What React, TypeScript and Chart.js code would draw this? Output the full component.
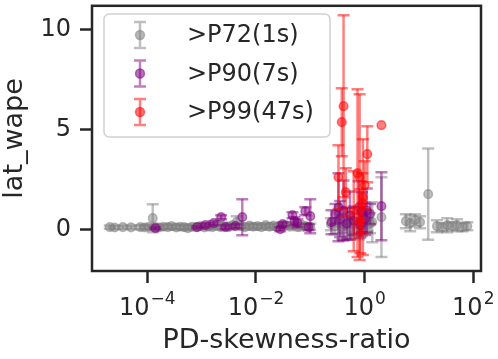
import React, { useEffect, useRef } from 'react';
import { Chart, registerables } from 'chart.js';

Chart.register(...registerables);

// ---- data ----
const SERIES_LABELS = ['>P72(1s)', '>P90(7s)', '>P99(47s)'];
const SERIES_RGB = ['128,128,128', '128,0,128', '255,0,0'];

const grayX = [
  2.04e-5, 2.51e-5, 3.55e-5, 5.01e-5, 7.41e-5, 8.91e-5, 1.07e-4, 1.26e-4, 1.41e-4, 1.66e-4,
  2.0e-4, 2.4e-4, 2.8e-4, 3.4e-4, 4.0e-4, 4.8e-4, 5.6e-4, 6.6e-4, 7.9e-4, 9.5e-4,
  1.12e-3, 1.32e-3, 1.58e-3, 1.9e-3, 2.24e-3, 2.63e-3, 3.16e-3, 3.7e-3, 4.4e-3, 5.2e-3,
  6.3e-3, 7.6e-3, 8.9e-3, 1.07e-2, 1.26e-2, 1.51e-2, 1.78e-2, 2.09e-2, 2.5e-2, 3.0e-2,
  3.55e-2, 4.2e-2, 5.0e-2, 6.0e-2, 7.1e-2, 8.3e-2, 0.1,
  0.24, 0.28, 0.33, 0.38, 0.45, 0.5, 0.56, 0.63, 0.71, 0.79, 0.89, 1.0, 1.12, 1.26, 1.38, 2.04,
  5.75, 6.9, 8.5, 10.5, 14.8, 21.4, 26.9, 33.1, 40.7, 50.1, 63.1, 77.6,
];
const grayY = [
  0.10, 0.08, 0.10, 0.09, 0.10, 0.08, 0.12, 0.55, 0.10, 0.08,
  0.12, 0.10, 0.15, 0.08, 0.12, 0.10, 0.05, 0.12, 0.10, 0.15,
  0.08, 0.12, 0.10, 0.18, 0.10, 0.15, 0.10, 0.20, 0.35, 0.15,
  0.10, 0.18, 0.12, 0.15, 0.10, 0.20, 0.12, 0.18, 0.10, 0.15,
  0.20, 0.12, 0.18, 0.10, 0.20, 0.15, 0.12,
  0.25, 0.15, 0.30, 0.10, 0.20, 0.35, 0.05, 0.25, 0.10, 0.30, 0.15, 0.40, 0.20, 0.30, 0.35, 0.60,
  0.40, 0.30, 0.45, 0.35, 1.75, 0.15, 0.10, 0.20, 0.15, 0.20, 0.10, 0.15,
];
const grayErr = [
  0.08, 0.08, 0.08, 0.08, 0.1, 0.1, 0.1, 0.7, 0.1, 0.1,
  0.12, 0.1, 0.1, 0.1, 0.12, 0.1, 0.1, 0.1, 0.12, 0.1,
  0.1, 0.1, 0.12, 0.1, 0.1, 0.15, 0.1, 0.12, 0.3, 0.1,
  0.12, 0.1, 0.15, 0.1, 0.12, 0.1, 0.15, 0.1, 0.12, 0.1,
  0.15, 0.1, 0.12, 0.15, 0.1, 0.12, 0.15,
  0.3, 0.4, 0.5, 0.6, 0.4, 0.7, 0.5, 0.6, 0.4, 0.8, 0.5, 0.6, 0.3, 0.5, 1.0, 2.0,
  0.35, 0.4, 0.3, 0.3, 2.28, 0.3, 0.2, 0.35, 0.2, 0.3, 0.2, 0.2,
];

const purpleX = [
  1.41e-4, 8.3e-4, 1.17e-3, 1.66e-3, 2.29e-3, 2.75e-3, 4.2e-3, 5.6e-3, 2.8e-2, 3.1e-2,
  4.7e-2, 5.1e-2, 5.8e-2, 8.1e-2, 9.3e-2, 0.1,
  0.245, 0.29, 0.33, 0.355, 0.41, 0.47, 0.54, 0.63, 0.78, 0.83, 0.89, 1.02, 1.1, 1.26, 2.04,
];
const purpleY = [
  0.05, 0.1, 0.2, 0.3, 0.6, 0.1, 0.15, 0.6, 0.0, 0.25,
  0.7, 0.4, 0.3, 0.9, 0.1, 0.65,
  0.35, 0.76, 1.09, 0.51, 0.93, 0.27, 0.68, 0.43, 1.09, 0.18, 0.84, 0.51, 0.93, 0.76, 1.15,
];
const purpleErr = [
  0.05, 0.05, 0.1, 0.1, 0.1, 0.1, 0.1, 0.9, 0.1, 0.1,
  0.15, 0.2, 0.2, 0.2, 0.15, 0.85,
  0.6, 0.5, 1.7, 0.9, 1.5, 0.8, 1.2, 0.7, 1.3, 0.6, 1.0, 0.8, 1.1, 0.5, 1.7,
];

const redX = [0.41, 0.38, 0.33, 0.45, 0.74, 0.81, 0.63, 1.12, 1.0, 0.91, 2.04, 0.83, 0.93];
const redY = [6.15, 5.35, 2.6, 1.85, 2.8, 2.6, 0.9, 3.75, 2.2, 1.3, 5.2, 0.4, 1.6];
const redErr = [4.55, 1.7, 1.6, 1.2, 4.2, 4.15, 2.0, 1.4, 1.2, 1.5, 0, 1.6, 2.9];

const X_TICKS = [1e-4, 1e-2, 1, 100];
const X_TICK_EXP = ['\u22124', '\u22122', '0', '2'];
const Y_TICKS = [0, 5, 10];
const Y_TICK_LABELS = ['0', '5', '10'];
const X_TITLE = 'PD-skewness-ratio';
const Y_TITLE = 'lat_wape';

const SERIES_X = [grayX, purpleX, redX];
const SERIES_Y = [grayY, purpleY, redY];
const SERIES_ERR = [grayErr, purpleErr, redErr];

const FONT = '"DejaVu Sans", sans-serif';
const INK = '#262626';

const errorBarPlugin = {
  id: 'errorBars',
  beforeDatasetDraw(chart: any, args: any) {
    const idx = args.index;
    const errs = SERIES_ERR[idx];
    const ys = SERIES_Y[idx];
    const yScale = chart.scales.y;
    const ctx = chart.ctx;
    const area = chart.chartArea;
    ctx.save();
    ctx.beginPath();
    ctx.rect(area.left, area.top, area.right - area.left, area.bottom - area.top);
    ctx.clip();
    ctx.strokeStyle = `rgba(${SERIES_RGB[idx]},0.5)`;
    ctx.lineWidth = 2.5;
    args.meta.data.forEach((pt: any, i: number) => {
      const e = errs[i];
      if (!e) return;
      const yTop = yScale.getPixelForValue(ys[i] + e);
      const yBot = yScale.getPixelForValue(ys[i] - e);
      ctx.beginPath();
      ctx.moveTo(pt.x, yTop);
      ctx.lineTo(pt.x, yBot);
      ctx.stroke();
      ctx.beginPath();
      ctx.moveTo(pt.x - 6, yTop);
      ctx.lineTo(pt.x + 6, yTop);
      ctx.moveTo(pt.x - 6, yBot);
      ctx.lineTo(pt.x + 6, yBot);
      ctx.stroke();
    });
    ctx.restore();
  },
};

const decorPlugin = {
  id: 'decor',
  afterDraw(chart: any) {
    const ctx = chart.ctx;
    const a = chart.chartArea;
    const xs = chart.scales.x;
    const ys = chart.scales.y;
    ctx.save();
    // frame
    ctx.strokeStyle = INK;
    ctx.lineWidth = 2.5;
    ctx.strokeRect(a.left, a.top, a.right - a.left, a.bottom - a.top);

    // y tick labels
    ctx.fillStyle = INK;
    ctx.font = `24px ${FONT}`;
    ctx.textAlign = 'right';
    ctx.textBaseline = 'middle';
    Y_TICKS.forEach((v, i) => {
      ctx.fillText(Y_TICK_LABELS[i], a.left - 21, ys.getPixelForValue(v) + 1);
    });

    // x tick labels with superscripts
    ctx.textBaseline = 'alphabetic';
    ctx.textAlign = 'left';
    X_TICKS.forEach((v, i) => {
      const px = xs.getPixelForValue(v);
      ctx.font = `24px ${FONT}`;
      const wb = ctx.measureText('10').width;
      ctx.font = `17px ${FONT}`;
      const we = ctx.measureText(X_TICK_EXP[i]).width;
      const start = px - (wb + 1 + we) / 2;
      ctx.font = `24px ${FONT}`;
      ctx.fillText('10', start, 315);
      ctx.font = `17px ${FONT}`;
      ctx.fillText(X_TICK_EXP[i], start + wb + 1, 304);
    });

    // legend
    const lx = 104, ly = 14, lw = 226, lh = 123;
    ctx.beginPath();
    ctx.roundRect(lx, ly, lw, lh, 5);
    ctx.fillStyle = 'rgba(255,255,255,0.8)';
    ctx.fill();
    ctx.strokeStyle = 'rgba(204,204,204,0.9)';
    ctx.lineWidth = 1.5;
    ctx.stroke();
    const rowY = [35, 73.5, 112];
    SERIES_LABELS.forEach((lab, i) => {
      const cx = 140, cy = rowY[i];
      ctx.strokeStyle = `rgba(${SERIES_RGB[i]},0.5)`;
      ctx.lineWidth = 2.5;
      ctx.beginPath();
      ctx.moveTo(cx, cy - 13);
      ctx.lineTo(cx, cy + 13);
      ctx.moveTo(cx - 6, cy - 13);
      ctx.lineTo(cx + 6, cy - 13);
      ctx.moveTo(cx - 6, cy + 13);
      ctx.lineTo(cx + 6, cy + 13);
      ctx.stroke();
      ctx.beginPath();
      ctx.arc(cx, cy, 4.5, 0, Math.PI * 2);
      ctx.fillStyle = `rgba(${SERIES_RGB[i]},0.55)`;
      ctx.fill();
      ctx.lineWidth = 1.5;
      ctx.stroke();
      ctx.fillStyle = INK;
      ctx.font = `24px ${FONT}`;
      ctx.textAlign = 'left';
      ctx.textBaseline = 'middle';
      ctx.fillText(lab, 187, cy + 1);
    });
    ctx.restore();
  },
};

export default function App() {
  const ref = useRef<HTMLCanvasElement | null>(null);
  useEffect(() => {
    if (!ref.current) return;
    const datasets = SERIES_LABELS.map((label, i) => ({
      label,
      data: SERIES_X[i].map((x, j) => ({ x, y: SERIES_Y[i][j] })),
      backgroundColor: `rgba(${SERIES_RGB[i]},0.5)`,
      borderColor: `rgba(${SERIES_RGB[i]},0.5)`,
      borderWidth: 1.5,
      pointRadius: 4.3,
      pointHoverRadius: 4.3,
      order: 3 - i,
    }));
    const chart = new Chart(ref.current, {
      type: 'scatter',
      data: { datasets },
      options: {
        animation: false,
        responsive: false,
        events: [],
        layout: { padding: { top: 3, right: 17, left: 0, bottom: 0 } },
        plugins: { legend: { display: false }, tooltip: { enabled: false } },
        scales: {
          x: {
            type: 'logarithmic',
            position: 'bottom',
            min: 9.6e-6,
            max: 138.7,
            afterBuildTicks: (scale: any) => {
              scale.ticks = X_TICKS.map((v) => ({ value: v, major: true }));
            },
            afterFit: (scale: any) => {
              scale.height = 88;
            },
            ticks: { display: false },
            grid: {
              display: true,
              drawOnChartArea: false,
              drawTicks: true,
              tickLength: 12,
              tickWidth: 2.5,
              tickColor: INK,
            },
            border: { display: false },
            title: {
              display: true,
              text: X_TITLE,
              color: INK,
              font: { family: FONT, size: 27, lineHeight: 1 },
              padding: { top: 0, bottom: 5 },
            },
          },
          y: {
            type: 'linear',
            position: 'left',
            min: -2.094,
            max: 11.17,
            afterBuildTicks: (scale: any) => {
              scale.ticks = Y_TICKS.map((v) => ({ value: v }));
            },
            afterFit: (scale: any) => {
              scale.width = 92;
            },
            ticks: { display: false },
            grid: {
              display: true,
              drawOnChartArea: false,
              drawTicks: true,
              tickLength: 12,
              tickWidth: 2.5,
              tickColor: INK,
            },
            border: { display: false },
            title: {
              display: true,
              text: Y_TITLE,
              color: INK,
              font: { family: FONT, size: 27, lineHeight: 1 },
              padding: { top: 1, bottom: 0 },
            },
          },
        },
      },
      plugins: [errorBarPlugin, decorPlugin],
    } as any);
    return () => chart.destroy();
  }, []);
  return (
    <div style={{ position: 'fixed', left: 0, top: 0, width: 498, height: 359, background: '#fff' }}>
      <canvas ref={ref} width={498} height={359} style={{ width: 498, height: 359, display: 'block' }} />
    </div>
  );
}
